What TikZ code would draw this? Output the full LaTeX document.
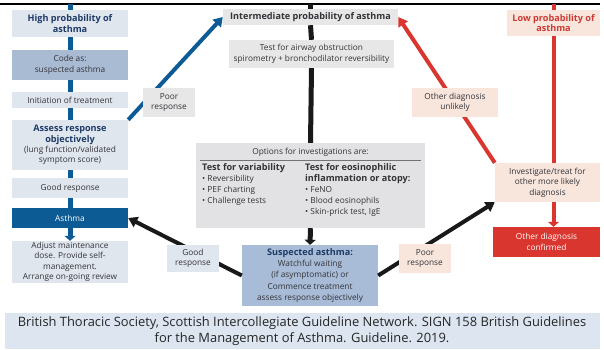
\documentclass[tikz,border=0pt]{standalone}
\usepackage{fontspec}
\setmainfont{Open Sans}
\usetikzlibrary{arrows.meta,calc}

\definecolor{bluelight}{HTML}{E0E6EE}
\definecolor{bluemid}{HTML}{A9BBD3}
\definecolor{bluedark}{HTML}{0D5B94}
\definecolor{navy}{HTML}{1E3A66}
\definecolor{greybox}{HTML}{E7E7E8}
\definecolor{optbox}{HTML}{E2E2E4}
\definecolor{suspblue}{HTML}{A8BCD7}
\definecolor{pink}{HTML}{F8E6DD}
\definecolor{redbox}{HTML}{D8362F}
\definecolor{redtext}{HTML}{CC3A33}
\definecolor{capband}{HTML}{DCE5F0}
\definecolor{txt}{HTML}{333338}

% type sizes used in the chart
\newcommand{\regsize}{\fontsize{8.3}{10.4}\selectfont}
\newcommand{\hdsize}{\bfseries\fontsize{9.1}{10.4}\selectfont}

\begin{document}
\begin{tikzpicture}[x=1pt,y=-1pt,
  bx/.style 2 args={rectangle, minimum width=#1pt, minimum height=#2pt,
    inner sep=0pt, align=center, text=txt, font=\regsize},
  lbl/.style={bx={52}{29}},
  bconn/.style={draw=bluedark, line width=5pt},
  kconn/.style={draw=black!90, line width=5pt},
  rconn/.style={draw=redbox, line width=4pt},
  vtip/.style={-{Triangle[length=5pt,width=11pt]}},
  dtip/.style={line width=4pt, -{Triangle[length=9pt,width=11pt]}},
  bul/.style={align=left, anchor=north west, inner sep=0pt, text=txt,
    font=\fontsize{8.3}{11}\selectfont}]
\useasboundingbox (0,0) rectangle (604,349);
\fill[white] (0,0) rectangle (604,349);

% rule across the top, with the stubs of the incoming connectors
\coordinate (topline) at (0,4);
\draw[line width=1.2pt] (0,4) -- (600,4);

% ---------------- left column: high probability ----------------
\node[bx={116}{27}, fill=bluelight, text=navy, font=\hdsize] (high) at (70,23.5) {High probability of\\asthma};
\node[bx={116}{30}, fill=bluemid] (code) at (70,65) {Code as:\\suspected asthma};
\node[bx={116}{16}, fill=bluelight] (init) at (70,100) {Initiation of treatment};
\node[bx={116}{50}, fill=bluelight] (assess) at (70,145) {{\hdsize\color{navy}Assess response}\\{\hdsize\color{navy}objectively}\\(lung function/validated\\symptom score)};
\node[bx={116}{20}, fill=bluelight] (good) at (70,188) {Good response};
\node[bx={116}{20}, fill=bluedark, text=white] (asthma) at (70,218) {Asthma};
\node[bx={116}{42}, fill=bluelight] (adjust) at (70,262) {Adjust maintenance\\dose. Provide self-\\management.\\Arrange on-going review};

\draw[bconn] (high.north) -- (high.north |- topline);
\draw[bconn] (high.south) -- (code.north);
\draw[bconn] (code.south) -- (init.north);
\draw[bconn] (init.south) -- (assess.north);
\draw[bconn] (assess.south) -- (good.north);
\draw[bconn] (good.south) -- (asthma.north);
\draw[bconn, vtip] (asthma.south) -- (adjust.north);

% ---------------- centre column: intermediate probability ----------------
\node[bx={175}{16}, fill=greybox, font=\hdsize] (inter) at (310.5,17) {Intermediate probability of asthma};
\node[bx={165}{28}, fill=greybox] (test) at (311.5,54) {Test for airway obstruction\\spirometry + bronchodilator reversibility};
\node[bx={229}{85}, fill=optbox] (opts) at (310.5,185.5) {};
\node[bx={136}{61}, fill=suspblue, font=\fontsize{8.3}{11.2}\selectfont] (susp) at (310,275.5) {{\hdsize\color{navy}Suspected asthma:}\\Watchful waiting\\(if asymptomatic) or\\Commence treatment\\assess response objectively};

\node[bx={200}{12}] (optstitle) at (310.5,152) {Options for investigations are:};
\draw[line width=0.9pt, black!55] ($(opts.north west)+(4,18)$) -- ($(opts.north east)+(-4,18)$);
\node[bul] (varcol) at (202,163) {{\hdsize Test for variability}\\\textbullet\ Reversibility\\\textbullet\ PEF charting\\\textbullet\ Challenge tests};
\node[bul] (eoscol) at (305,163) {{\hdsize Test for eosinophilic}\\{\hdsize inflammation or atopy:}\\\textbullet\ FeNO\\\textbullet\ Blood eosinophils\\\textbullet\ Skin-prick test, IgE};

\draw[kconn] (inter.north) -- (inter.north |- topline);
\draw[kconn] (inter.south) -- (test.north);
\draw[kconn] (test.south) -- (opts.north);
\draw[kconn, vtip] (opts.south) -- (susp.north);

% ---------------- right column: low probability ----------------
\node[bx={93}{26}, fill=pink, text=redtext, font=\hdsize] (low) at (553.5,23) {Low probability of\\asthma};
\node[bx={105}{39}, fill=pink] (inv) at (547.5,182.5) {Investigate/treat for\\other more likely\\diagnosis};
\node[bx={107}{30}, fill=redbox, text=white] (conf) at (546.5,242) {Other diagnosis\\confirmed};

\draw[rconn] (low.north) -- (low.north |- topline);
\draw[rconn] (low.south) -- (low.south |- inv.north);
\draw[rconn, vtip] (inv.south -| low.south) -- (conf.north -| low.south);

% ---------------- diagonal connectors ----------------
\draw[draw=bluedark, dtip] (assess.north east) -- (inter.west);
\draw[draw=redbox, dtip] (inv.north west) -- (inter.east);
\draw[draw=black!90, dtip] (susp.west) -- (asthma.east);
\draw[draw=black!90, dtip] (susp.east) -- (inv.south west);

\node[lbl, fill=greybox] (poor1) at (169,102.5) {Poor\\response};
\node[bx={86}{29}, fill=pink] (unlikely) at (455,102.5) {Other diagnosis\\unlikely};
\node[lbl, fill=bluelight, minimum height=27pt] (goodlbl) at (193,258.5) {Good\\response};
\node[lbl, fill=pink] (poor2) at (425,258.5) {Poor\\response};

% ---------------- source line ----------------
\fill[capband] (5,313) rectangle (600,349);
\node[align=center, inner sep=0pt, text=black!85, font=\fontsize{12.9}{16}\selectfont] (source) at (302,331.5) {British Thoracic Society, Scottish Intercollegiate Guideline Network. SIGN 158 British Guidelines\\for the Management of Asthma. Guideline. 2019.};
\end{tikzpicture}
\end{document}
